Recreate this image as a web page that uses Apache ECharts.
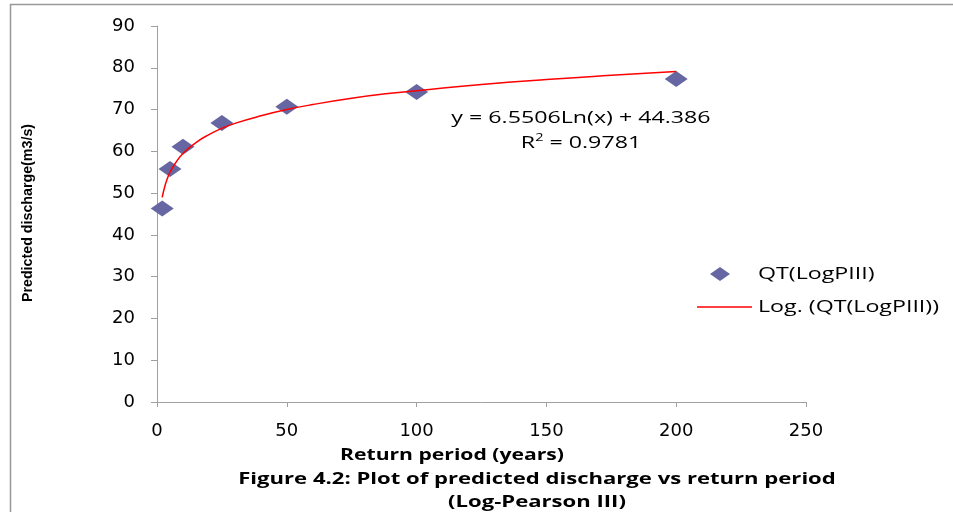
<!DOCTYPE html>
<html><head><meta charset="utf-8">
<script src="https://cdn.jsdelivr.net/npm/echarts@6/dist/echarts.min.js"></script>
<style>html,body{margin:0;padding:0;background:#fff}#c{width:953px;height:512px}</style>
</head><body><div id="c"></div>
<script>
// Observed points: return period (years) vs predicted discharge (m3/s)
const returnPeriods = [2, 5, 10, 25, 50, 100, 200];
const discharge = [46.3, 55.8, 61.1, 66.8, 70.7, 74.2, 77.3];
// Trendline
const trendX = [2, 3, 4, 5, 7, 10, 15, 20, 25, 30, 40, 50, 60, 75, 90, 100, 125, 150, 175, 200];
const trendY = [49.0, 51.6, 53.5, 55.0, 57.1, 59.5, 62.1, 64.0, 65.5, 66.7, 68.5, 70.0, 71.2, 72.7, 73.9, 74.5, 76.0, 77.2, 78.2, 79.1];
const xTicks = [0, 50, 100, 150, 200, 250];
const yTicks = [0, 10, 20, 30, 40, 50, 60, 70, 80, 90];
const seriesNames = ['QT(LogPIII)', 'Log. (QT(LogPIII))'];
const eqText = 'y = 6.5506Ln(x) + 44.386';
const r2Text = 'R{sup|2} = 0.9781';
const xTitle = 'Return period (years)';
const yTitle = 'Predicted discharge(m3/s)';
const caption1 = 'Figure 4.2: Plot of predicted discharge vs return period';
const caption2 = '(Log-Pearson III)';

const chart = echarts.init(document.getElementById('c'));
const font = 'DejaVu Sans';
const txt = (x, y, text, extra, sx) => ({
  type: 'text', x, y, scaleX: sx || 1.45,
  style: Object.assign({text, fontFamily: 'Open Sans', fontSize: 16, fill: '#000', align: 'center', verticalAlign: 'middle'}, extra || {})
});
chart.setOption({
  animation: false,
  grid: {left: 157, right: 953 - 806, top: 26, bottom: 512 - 402, containLabel: false},
  xAxis: {
    type: 'value', min: xTicks[0], max: xTicks[xTicks.length - 1], interval: 50,
    axisLine: {lineStyle: {color: '#a0a0a0'}},
    axisTick: {show: true, length: 5, inside: false, lineStyle: {color: '#a0a0a0'}},
    splitLine: {show: false},
    axisLabel: {fontFamily: font, fontSize: 18, color: '#000', margin: 20}
  },
  yAxis: {
    type: 'value', min: yTicks[0], max: yTicks[yTicks.length - 1], interval: 10,
    axisLine: {show: true, lineStyle: {color: '#a0a0a0'}},
    axisTick: {show: true, length: 6, lineStyle: {color: '#a0a0a0'}},
    splitLine: {show: false},
    axisLabel: {fontFamily: font, fontSize: 18, color: '#000', margin: 22}
  },
  legend: {show: false},
  series: [
    {
      name: seriesNames[0], type: 'scatter', symbol: 'diamond', symbolSize: [23, 16],
      itemStyle: {color: '#6666a2', opacity: 1}, z: 3,
      data: returnPeriods.map((x, i) => [x, discharge[i]])
    },
    {
      name: seriesNames[1], type: 'line', showSymbol: false, smooth: true,
      lineStyle: {color: '#ff0000', width: 1.5}, z: 4,
      data: trendX.map((x, i) => [x, trendY[i]])
    }
  ],
  graphic: [
    {type: 'line', shape: {x1: 10, y1: 4.5, x2: 953, y2: 4.5}, style: {stroke: '#999', lineWidth: 1.5}},
    {type: 'line', shape: {x1: 10.5, y1: 4, x2: 10.5, y2: 512}, style: {stroke: '#999', lineWidth: 1.5}},
    {type: 'text', x: 28, y: 213, rotation: Math.PI / 2, scaleX: 0.95, style: {
      text: yTitle, fontFamily: 'Liberation Sans', fontWeight: 'bold', fontSize: 15,
      fill: '#000', align: 'center', verticalAlign: 'middle'}},
    txt(581, 118, eqText),
    txt(581, 143, r2Text, {rich: {sup: {fontSize: 10, verticalAlign: 'top', padding: [0, 0, 10, 0], fontFamily: 'Open Sans'}}}),
    {type: 'polygon', shape: {points: [[720, 267], [730, 274], [720, 281], [710, 274]]}, style: {fill: '#6666a2'}},
    txt(758, 274, seriesNames[0], {align: 'left'}),
    {type: 'line', shape: {x1: 697, y1: 307, x2: 752, y2: 307}, style: {stroke: '#ff0000', lineWidth: 1.5}},
    txt(758, 307, seriesNames[1], {align: 'left'}),
    txt(452, 455, xTitle, {fontWeight: 'bold'}, 1.32),
    txt(537, 479, caption1, {fontWeight: 'bold'}, 1.38),
    txt(537, 502, caption2, {fontWeight: 'bold'}, 1.38)
  ]
});
</script></body></html>
